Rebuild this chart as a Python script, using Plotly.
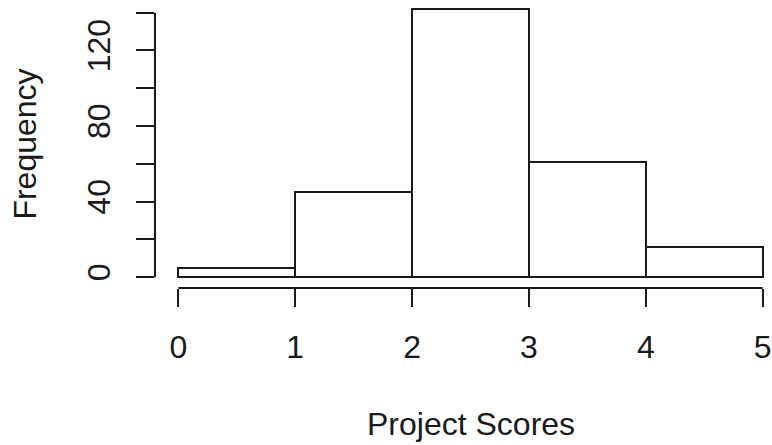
import plotly.graph_objects as go

# Data
bin_edges = [0, 1, 2, 3, 4, 5]
counts = [5, 45, 142, 61, 16]
x_ticks = [0, 1, 2, 3, 4, 5]
y_ticks = [0, 20, 40, 60, 80, 100, 120, 140]
y_tick_labels = ["0", "", "40", "", "80", "", "120", ""]
x_title = "Project Scores"
y_title = "Frequency"

centers = [(a + b) / 2 for a, b in zip(bin_edges[:-1], bin_edges[1:])]
widths = [b - a for a, b in zip(bin_edges[:-1], bin_edges[1:])]

FONT = "Liberation Sans, Arial, sans-serif"
INK = "#1a1a1a"

fig = go.Figure(
    go.Bar(
        x=centers,
        y=counts,
        width=widths,
        marker=dict(color="white", line=dict(color=INK, width=2)),
        hoverinfo="x+y",
    )
)

ymax = max(counts)
fig.update_layout(
    width=772,
    height=445,
    margin=dict(l=155, r=0, t=0, b=157),
    paper_bgcolor="white",
    plot_bgcolor="white",
    font=dict(family=FONT, size=32, color=INK),
    showlegend=False,
    bargap=0,
)

fig.update_xaxes(
    range=[-0.2, 5.08],
    tickvals=x_ticks,
    ticktext=[str(t) for t in x_ticks],
    ticks="outside",
    ticklen=18,
    tickwidth=2,
    tickcolor=INK,
    ticklabelstandoff=13,
    showline=False,
    showgrid=False,
    zeroline=False,
    automargin=False,
)
fig.update_yaxes(
    range=[-0.04 * ymax, 146.7],
    tickvals=y_ticks,
    ticktext=y_tick_labels,
    tickangle=-90,
    ticks="outside",
    ticklen=18,
    tickwidth=2,
    tickcolor=INK,
    ticklabelstandoff=13,
    showline=False,
    showgrid=False,
    zeroline=False,
    title=dict(text=y_title, standoff=35, font=dict(size=32)),
    automargin=False,
)

# x-axis title centred on the full R plot region (data centre of bins)
fig.add_annotation(
    text=x_title,
    xref="x", x=(bin_edges[0] + bin_edges[-1]) / 2,
    yref="paper", y=0, yanchor="top", yshift=-116,
    showarrow=False, font=dict(size=32, family=FONT, color=INK),
)

# R-style axis lines spanning only the tick range
fig.add_shape(type="line", xref="x", yref="paper",
              x0=min(x_ticks), x1=max(x_ticks), y0=0, y1=0,
              line=dict(color=INK, width=2))
fig.add_shape(type="line", xref="paper", yref="y",
              x0=0, x1=0, y0=min(y_ticks), y1=max(y_ticks),
              line=dict(color=INK, width=2))

fig.write_html(
    "out.html",
    config={"displayModeBar": False},
    post_script="document.body.style.margin='0';document.body.style.overflow='hidden';",
)
